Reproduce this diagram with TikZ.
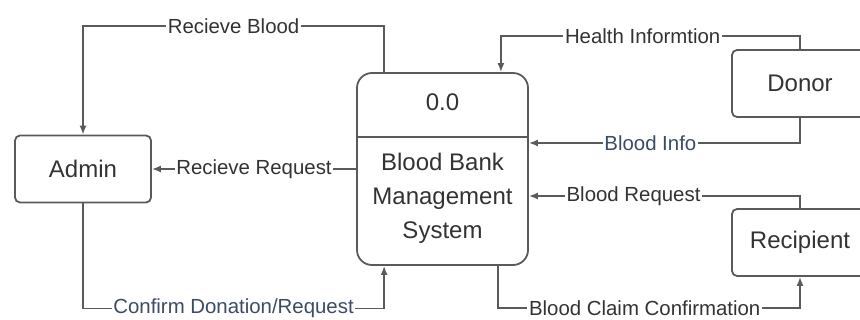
\documentclass[tikz,border=0pt]{standalone}
\usepackage{fontspec}
\setmainfont{Liberation Sans}
\usetikzlibrary{arrows.meta}
\definecolor{linegray}{HTML}{5A5A5A}
\definecolor{textgray}{HTML}{333333}
\definecolor{slateblue}{HTML}{3C4B66}
\tikzset{
  entity/.style={draw=linegray, line width=0.9pt, rounded corners=2.5pt, fill=white,
    minimum width=68pt, minimum height=33.5pt, text=textgray, font=\fontsize{12}{14}\selectfont},
  procbox/.style={draw=linegray, line width=0.9pt, rounded corners=7.5pt, fill=white,
    minimum width=85.5pt, minimum height=96pt},
  flow/.style={draw=linegray, line width=0.8pt, -{Latex[length=4.5pt,width=3.5pt]}},
  lbl/.style={fill=white, inner sep=0.8pt, text=textgray, font=\fontsize{10.2}{12}\selectfont}
}
\begin{document}
\begin{tikzpicture}[x=0.5pt, y=-0.5pt]
      \useasboundingbox (0,0) rectangle (860,320);

      \node[entity] (admin) at (83,169) {Admin};
      \node[entity] (donor) at (800,83.5) {Donor};
      \node[entity] (recipient) at (800,242.5) {Recipient};
      \node[procbox] (bbms) at (442.5,169) {};
        \draw[linegray, line width=0.9pt] (bbms.west |- 0,137) to (bbms.east |- 0,137);
      \node[text=textgray, font=\fontsize{12}{14}\selectfont] (procid) at (442.5,102) {0.0};
      \node[text=textgray, align=center, font=\fontsize{12}{17}\selectfont] (procname) at (442.5,198)
        {Blood Bank\\Management\\System};

      \draw[flow] ([xshift=14pt]bbms.north west) -- ++(0,-46) -| (admin.north)
        node[lbl, pos=0.25]{Recieve Blood};
      \draw[flow] (bbms.west) -- (admin.east)
        node[lbl, midway]{Recieve Request};
      \draw[flow] (admin.south) -- ++(0,105) -| ([xshift=14pt]bbms.south west)
        node[lbl, pos=0.25, text=slateblue]{Confirm Donation/Request};

      \draw[flow] (donor.north) -- ++(0,-13) -| ([xshift=-14pt]bbms.north east)
        node[lbl, pos=0.263]{Health Informtion};
      \draw[flow] (donor.south) |- ([yshift=13pt]bbms.east)
        node[lbl, pos=0.776, text=slateblue]{Blood Info};
      \draw[flow] (recipient.north) |- ([yshift=-13.5pt]bbms.east)
        node[lbl, pos=0.807]{Blood Request};
      \draw[flow] ([xshift=-15.5pt]bbms.south east) -- ++(0,42) -| (recipient.south)
        node[lbl, pos=0.243]{Blood Claim Confirmation};
    \end{tikzpicture}
\end{document}
